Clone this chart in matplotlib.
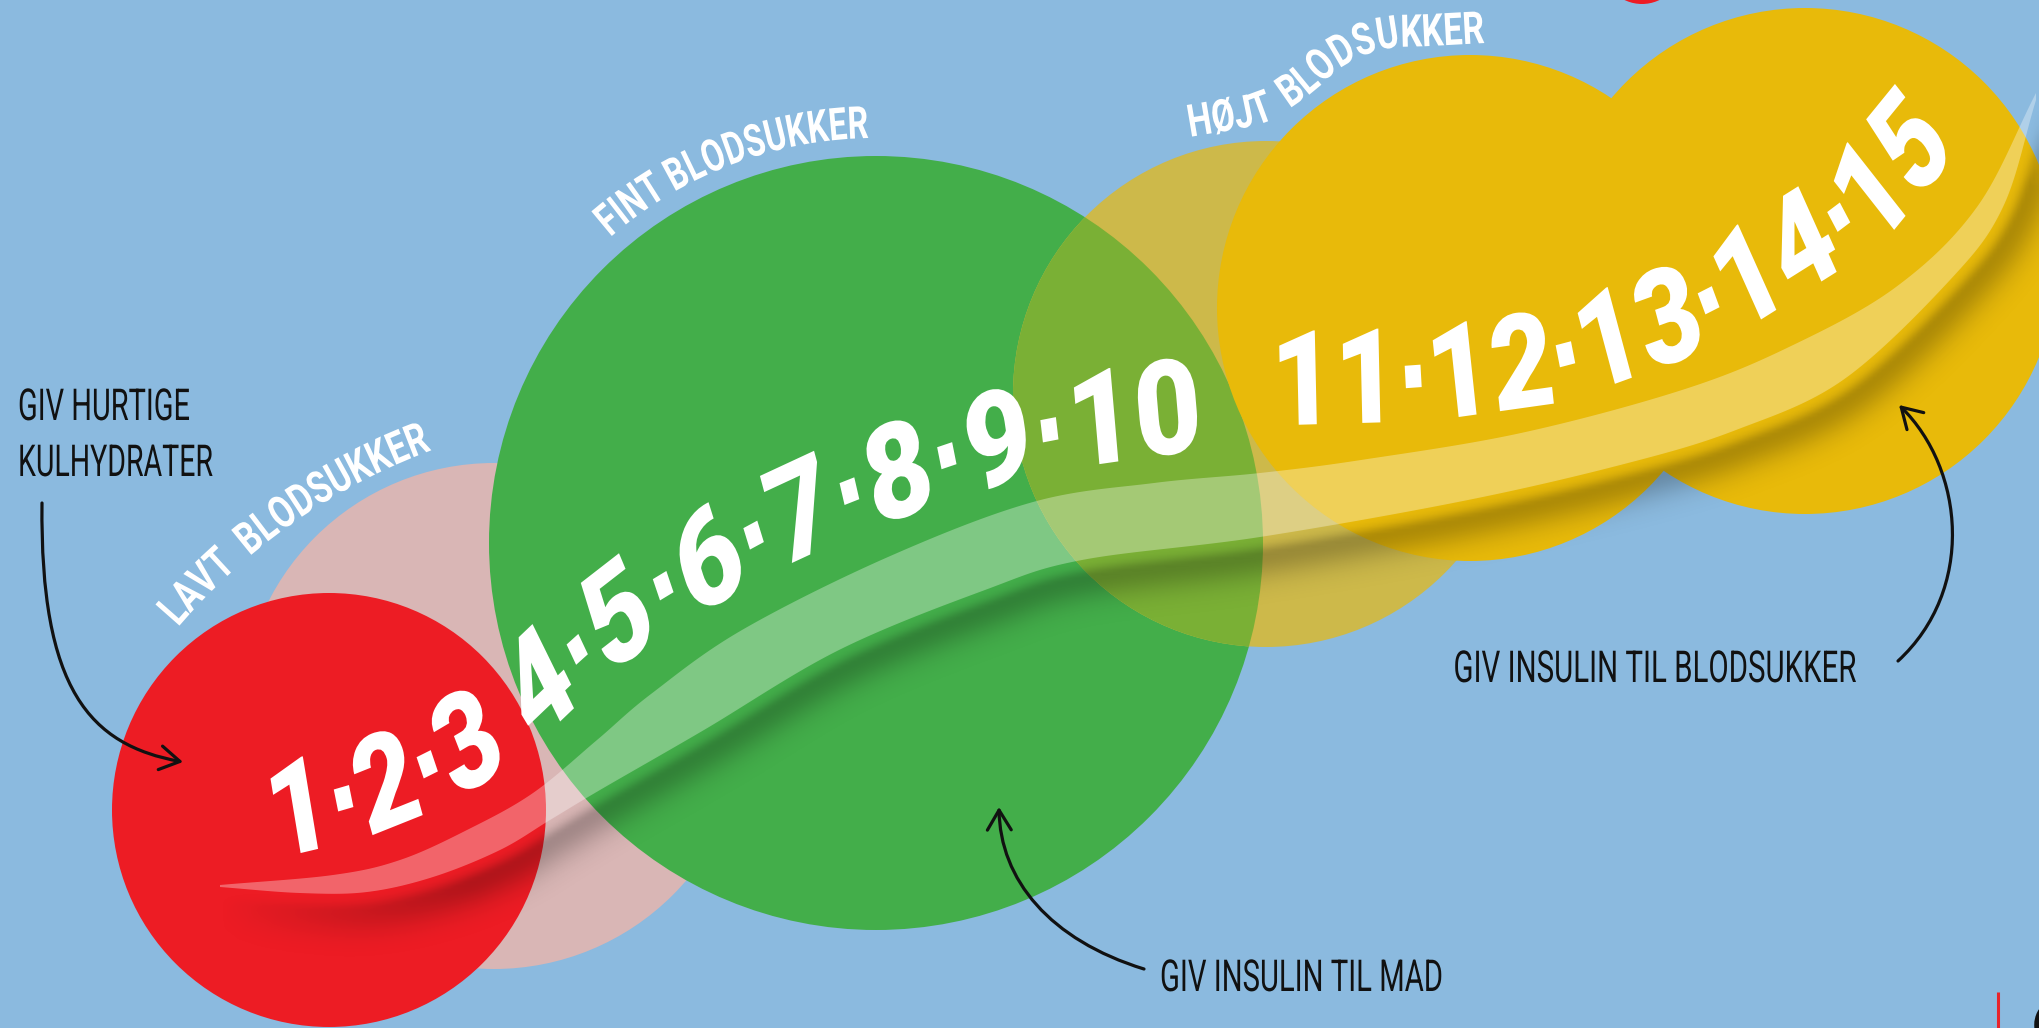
import numpy as np
import matplotlib
matplotlib.use("Agg")
import matplotlib.pyplot as plt
from matplotlib.patches import Circle, Polygon, FancyArrowPatch, Arc
from matplotlib.path import Path
from matplotlib.transforms import Affine2D
from matplotlib import patheffects
from matplotlib.font_manager import FontProperties, findfont, get_font

W, H, DPI = 2040, 1028, 100

# ---- content ----
low_values = [1, 2, 3]
good_values = [4, 5, 6, 7, 8, 9, 10]
high_values = [11, 12, 13, 14, 15]
zone_titles = ["LAVT  BLODSUKKER", "FINT BLODSUKKER", "HØJT  BLODSUKKER"]
hint_low = ["GIV HURTIGE", "KULHYDRATER"]
hint_food = "GIV INSULIN TIL MAD"
hint_high = "GIV INSULIN TIL BLODSUKKER"

# ---- colours ----
BG = "#8BBADF"
PINK = "#D9B6B5"
RED = "#ED1C24"
GREEN = "#43AE4A"
OLIVE = "#CDB94A"
OLIVE_ON_GREEN = "#7AB035"
YELLOW = "#E8BA0A"
INK = "#111111"

# ---- layout, pixel coords with y going down ----
pink_c, pink_r = (494, 716), 253
red_c, red_r = (329, 810), 217
green_c, green_r = (876, 543), 387
olive_c, olive_r = (1266, 394), 253
yellow_circles = [((1470, 308), 253), ((1805, 261), 253)]

band_top = [(220, 885), (333, 875), (400, 860), (467, 830), (533, 793), (597, 740),
            (651, 694), (742, 630), (888, 557), (1033, 502), (1154, 483), (1260, 473),
            (1361, 460), (1521, 433), (1682, 390), (1789, 347), (1896, 287),
            (1977, 207), (2036, 93)]
band_bot = [(220, 887), (300, 893), (367, 892), (433, 877), (500, 850), (550, 820),
            (600, 790), (704, 730), (839, 650), (985, 590), (1082, 560), (1260, 537),
            (1468, 500), (1628, 463), (1736, 430), (1843, 380), (1950, 280),
            (2003, 207), (2036, 100)]

base_low = [(275, 860), (305, 852), (345, 843), (385, 830), (430, 811), (478, 786), (510, 766)]
base_good = [(535, 748), (565, 717), (645, 648), (737, 593), (820, 550), (917, 512),
             (1004, 484), (1116, 462), (1205, 450)]
base_high = [(1272, 425), (1325, 424), (1400, 421), (1487, 413), (1570, 398), (1642, 374),
             (1720, 343), (1792, 300), (1860, 255), (1910, 210), (1955, 150)]
base_high_title = [(1190, 137), (1260, 124), (1290, 108), (1315, 90), (1335, 72),
                   (1360, 57), (1390, 48), (1430, 46), (1485, 43)]

EM_NUM, EM_TITLE, EM_CAP = 132, 45, 44

fp_num = FontProperties(family="Roboto", weight="black", size=EM_NUM * 72 / DPI)
fp_title = FontProperties(family="Roboto", weight="bold", size=EM_TITLE * 72 / DPI)
fp_cap = FontProperties(family="Roboto", weight="normal", size=EM_CAP * 72 / DPI)


class Narrow(patheffects.AbstractPathEffect):
    """Squeeze glyphs horizontally and lean their verticals."""
    def __init__(self, sx, lean=0.0, centred=False):
        super().__init__()
        self.centred = centred
        self.pre = Affine2D(np.array([[sx, -np.sin(lean), 0.0],
                                      [0.0, np.cos(lean), 0.0],
                                      [0.0, 0.0, 1.0]]))

    def draw_path(self, renderer, gc, tpath, affine, rgbFace=None):
        pre = self.pre
        if self.centred:
            ext = tpath.get_extents()
            cx = (ext.x0 + ext.x1) / 2
            pre = Affine2D().translate(-cx, 0) + self.pre + Affine2D().translate(cx, 0)
        renderer.draw_path(gc, tpath, pre + affine, rgbFace)


def advances(text, fp, em):
    font = get_font(findfont(fp))
    font.set_size(em, 72)
    return np.array([font.load_char(ord(c)).linearHoriAdvance / 65536 for c in text])


def catmull(pts, k=24):
    p = np.asarray(pts, float)
    p = np.vstack([2 * p[0] - p[1], p, 2 * p[-1] - p[-2]])
    t = np.linspace(0, 1, k, endpoint=False)[:, None]
    segs = []
    for i in range(1, len(p) - 2):
        p0, p1, p2, p3 = p[i - 1], p[i], p[i + 1], p[i + 2]
        segs.append(0.5 * (2 * p1 + (p2 - p0) * t
                           + (2 * p0 - 5 * p1 + 4 * p2 - p3) * t ** 2
                           + (3 * p1 - p0 - 3 * p2 + p3) * t ** 3))
    segs.append(p[-2][None, :])
    return np.vstack(segs)


def arc_pts(c, r, a0, a1, n=80):
    a = np.deg2rad(np.linspace(a0, a1, n))
    return np.column_stack([c[0] + r * np.cos(a), c[1] - r * np.sin(a)])


def measure(curve):
    d = np.hypot(*np.diff(curve, axis=0).T)
    return np.concatenate([[0], np.cumsum(d)])


def at(curve, cum, s):
    return np.array([np.interp(s, cum, curve[:, 0]), np.interp(s, cum, curve[:, 1])])


def tangent(curve, cum, s, h=6):
    v = at(curve, cum, min(s + h, cum[-1])) - at(curve, cum, max(s - h, 0))
    return v / np.hypot(*v)


DOT = None


def lay_tokens(ax, tokens, curve, fp, em, lean_k=1.0, lean_add=0.0, dot_adv=0.3,
               color="white", z=10):
    cum = measure(curve)
    adv = np.array([dot_adv * em if tok is DOT else advances(tok, fp, em).sum()
                    for tok in tokens])
    sq = cum[-1] / adv.sum()
    s = 0.0
    for tok, a in zip(tokens, adv):
        w = a * sq
        t = tangent(curve, cum, s + w / 2)
        phi = np.arctan2(-t[1], t[0])
        psi = lean_k * phi + np.deg2rad(lean_add)
        x0, y0 = at(curve, cum, s + w / 2) - t * w / 2
        if tok is DOT:
            u = np.array([-np.sin(psi), -np.cos(psi)])
            rw, rh, yc = 0.12 * em, 0.17 * em, 0.33 * em
            corners = [((w - rw) / 2, yc - rh / 2), ((w + rw) / 2, yc - rh / 2),
                       ((w + rw) / 2, yc + rh / 2), ((w - rw) / 2, yc + rh / 2)]
            poly = [np.array([x0, y0]) + gx * t + gy * u for gx, gy in corners]
            ax.add_patch(Polygon(poly, closed=True, fc=color, ec="none", zorder=z))
        elif tok.strip():
            ax.text(x0, y0, tok, fontproperties=fp, color=color,
                    rotation=np.rad2deg(phi), rotation_mode="anchor",
                    ha="left", va="baseline",
                    path_effects=[Narrow(sq, psi - phi)], zorder=z)
        s += w


def number_tokens(values):
    out = []
    for v in values:
        if out:
            out.append(DOT)
        out.append(str(v))
    return out


def shadow_rgba(edge, off=18.0, s_in=9.0, s_out=24.0, amax=0.25, step=4):
    xs = np.arange(0, W, step) + step / 2
    ys = np.arange(0, H, step) + step / 2
    X, Y = np.meshgrid(xs, ys)
    P = np.column_stack([X.ravel(), Y.ravel()])
    tang = np.gradient(edge, axis=0)
    tang /= np.hypot(tang[:, 0], tang[:, 1])[:, None]
    nrm = np.column_stack([-tang[:, 1], tang[:, 0]])
    cum = measure(edge)
    u = cum / cum[-1]
    alpha = np.zeros(len(P))
    n = 6000
    for i in range(0, len(P), n):
        ch = P[i:i + n]
        d2 = ((ch[:, None, :] - edge[None, :, :]) ** 2).sum(-1)
        j = d2.argmin(1)
        sd = ((ch - edge[j]) * nrm[j]).sum(1)
        prof = np.where(sd > off, np.exp(-((sd - off) / s_out) ** 2),
                        np.exp(-((sd - off) / s_in) ** 2))
        taper = np.clip(u[j] / 0.12, 0, 1) * np.clip((1 - u[j]) / 0.04, 0, 1)
        alpha[i:i + n] = amax * prof * taper
    img = np.zeros((len(ys), len(xs), 4))
    img[..., 3] = alpha.reshape(X.shape)
    return img


def caption(ax, left, y, text, width, centred=False):
    adv = advances(text, fp_cap, EM_CAP).sum()
    x = left + width / 2 if centred else left
    ax.text(x, y, text, fontproperties=fp_cap, color=INK,
            ha="center" if centred else "left", va="baseline",
            path_effects=[Narrow(width / adv, centred=centred)], zorder=12)


def arrow(ax, p0, c1, c2, p1):
    path = Path([p0, c1, c2, p1], [Path.MOVETO, Path.CURVE4, Path.CURVE4, Path.CURVE4])
    ax.add_patch(FancyArrowPatch(path=path, arrowstyle="->,head_length=0.55,head_width=0.33",
                                 mutation_scale=26, lw=2.3, color=INK, zorder=12))


fig = plt.figure(figsize=(W / DPI, H / DPI), dpi=DPI, facecolor=BG)
ax = fig.add_axes([0, 0, 1, 1])
ax.set_facecolor(BG)
ax.axis("off")

# circles
ax.add_patch(Circle(pink_c, pink_r, fc=PINK, ec="none", zorder=1))
ax.add_patch(Circle(red_c, red_r, fc=RED, ec="none", zorder=2))
green = Circle(green_c, green_r, fc=GREEN, ec="none", zorder=2)
ax.add_patch(green)
ax.add_patch(Circle(olive_c, olive_r, fc=OLIVE, ec="none", zorder=3))
mix = Circle(olive_c, olive_r, fc=OLIVE_ON_GREEN, ec="none", zorder=3.1)
ax.add_patch(mix)
mix.set_clip_path(green)
for c, r in yellow_circles:
    ax.add_patch(Circle(c, r, fc=YELLOW, ec="none", zorder=4))
ax.add_patch(Circle((1642, -36), 40, fc=RED, ec="none", zorder=4))

# swoosh with its shadow
top = catmull(band_top)
bot = catmull(band_bot)
ax.imshow(shadow_rgba(bot), extent=(0, W, H, 0), origin="upper",
          interpolation="bilinear", zorder=5)
ax.add_patch(Polygon(np.vstack([top, bot[::-1]]), closed=True, fc="white",
                     alpha=0.32, ec="none", zorder=6))

# numbers on the curve
lay_tokens(ax, number_tokens(low_values), catmull(base_low), fp_num, EM_NUM,
           lean_k=0.7, z=10)
lay_tokens(ax, number_tokens(good_values), catmull(base_good), fp_num, EM_NUM,
           lean_k=0.6, z=10)
lay_tokens(ax, number_tokens(high_values), catmull(base_high), fp_num, EM_NUM,
           lean_k=0.75, z=10)

# zone titles
lay_tokens(ax, list(zone_titles[0]), arc_pts((645, 1026), 614, 139.5, 110.3),
           fp_title, EM_TITLE, z=10)
lay_tokens(ax, list(zone_titles[1]), arc_pts(green_c, 405, 131, 91),
           fp_title, EM_TITLE, z=10)
lay_tokens(ax, list(zone_titles[2]), catmull(base_high_title), fp_title, EM_TITLE, z=10)

# hints and arrows
caption(ax, 18, 420, hint_low[0], 172)
caption(ax, 18, 476, hint_low[1], 195)
caption(ax, 1160, 991, hint_food, 283)
caption(ax, 1453, 682, hint_high, 403, centred=True)
arrow(ax, (42, 503), (40, 690), (90, 745), (183, 762))
arrow(ax, (1144, 969), (1050, 940), (1000, 880), (999, 807))
arrow(ax, (1898, 661), (1975, 590), (1965, 470), (1899, 405))

# page furniture at the corner
ax.plot([1998, 1998], [992, 1028], color="#E8242B", lw=2.2, zorder=12,
        solid_capstyle="butt")
ax.add_patch(Arc((2055, 1025), 36, 44, theta1=110, theta2=250, lw=4, color=INK, zorder=12))

ax.set_xlim(0, W)
ax.set_ylim(H, 0)
fig.savefig("out.png", dpi=DPI, facecolor=BG)
